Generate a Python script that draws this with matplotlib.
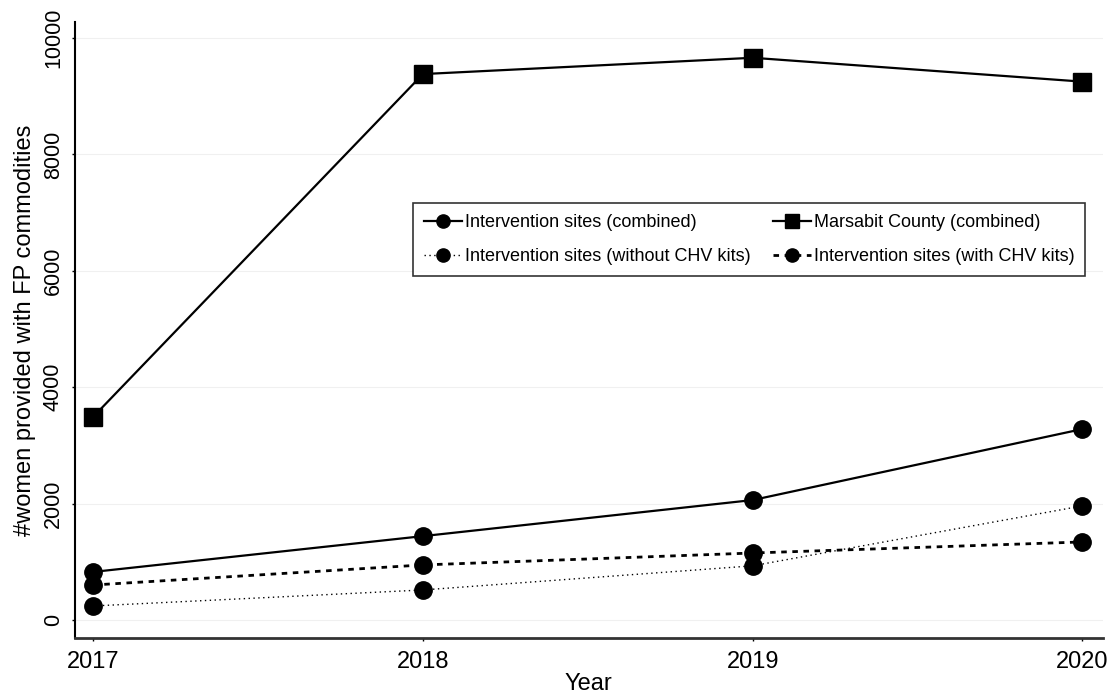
import matplotlib
matplotlib.use("Agg")
import matplotlib.pyplot as plt

plt.rcParams['font.family'] = ['Liberation Sans', 'DejaVu Sans']

years = [2017, 2018, 2019, 2020]
marsabit_combined = [3490, 9380, 9660, 9250]
intervention_combined = [825, 1440, 2060, 3280]
intervention_without_chv = [240, 515, 930, 1960]
intervention_with_chv = [600, 945, 1150, 1340]

series_labels = [
    "Intervention sites (combined)",
    "Marsabit County (combined)",
    "Intervention sites (without CHV kits)",
    "Intervention sites (with CHV kits)",
]
y_ticks = [0, 2000, 4000, 6000, 8000, 10000]

fig = plt.figure(figsize=(11.15, 6.98), dpi=100)
ax = fig.add_axes([0.0673, 0.0860, 0.9215, 0.8825])

circle_ms = 12.5
square_ms = 13
h1, = ax.plot(years, intervention_combined, color='black', lw=1.6, ls='-',
              marker='o', ms=circle_ms, label=series_labels[0])
h2, = ax.plot(years, marsabit_combined, color='black', lw=1.6, ls='-',
              marker='s', ms=square_ms, label=series_labels[1])
h3, = ax.plot(years, intervention_without_chv, color='black', lw=1.0, ls=(0, (1, 2.5)),
              marker='o', ms=circle_ms, label=series_labels[2])
h4, = ax.plot(years, intervention_with_chv, color='black', lw=2.0, ls=(0, (2, 2)),
              marker='o', ms=circle_ms, label=series_labels[3])

ax.set_xlim(2016.945, 2020.061)
ax.set_ylim(-310, 10275)
ax.set_xticks(years)
ax.set_xticklabels([str(y) for y in years])
ax.set_yticks(y_ticks)
ax.set_yticklabels([str(v) for v in y_ticks], rotation=90, va='center')
ax.tick_params(axis='both', length=2.5, width=1.0, color='black')
ax.tick_params(axis='x', labelsize=17, pad=7)
ax.tick_params(axis='y', labelsize=15.5, pad=5.5)

ax.grid(axis='y', color='#f0f0f0', lw=0.8)
ax.set_axisbelow(True)

for side in ('top', 'right'):
    ax.spines[side].set_visible(False)
ax.spines['left'].set_linewidth(1.5)
ax.spines['bottom'].set_linewidth(2.0)
ax.spines['bottom'].set_color('#333333')

ax.set_xlabel("Year", fontsize=17, labelpad=0)
ax.set_ylabel("#women provided with FP commodities", fontsize=17, labelpad=5)

# two-column legend, filled column by column
leg = ax.legend(handles=[h1, h3, h2, h4], ncol=2, loc='upper left',
                bbox_to_anchor=(0.329, 0.58, 0.654, 0.126), mode='expand',
                borderaxespad=0,
                fontsize=13, frameon=True, fancybox=False, edgecolor='black',
                handlelength=2.1, handletextpad=0.15, columnspacing=0.5,
                borderpad=0.6, labelspacing=0.95, markerscale=0.76)
leg.get_frame().set_linewidth(1.2)

fig.savefig("out.png", dpi=100, facecolor='white')
